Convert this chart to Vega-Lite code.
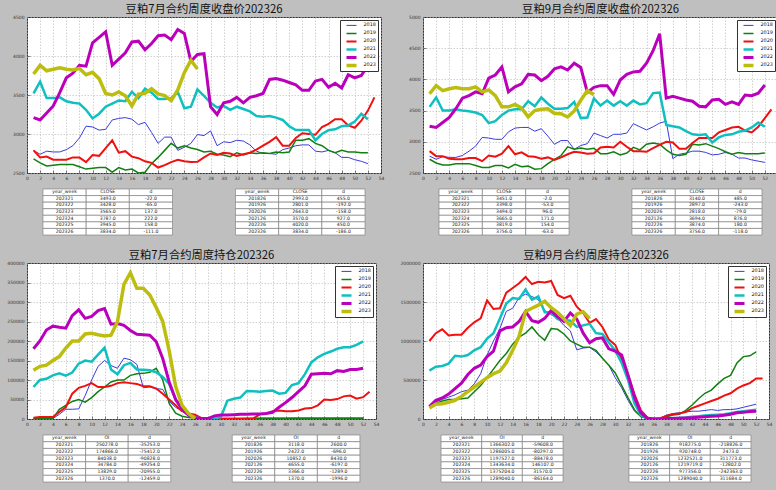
{
"$schema": "https://vega.github.io/schema/vega-lite/v6.json",
"autosize": {"type": "none"},
"padding": {"left": 21, "top": 17, "right": 755, "bottom": 473},
"background": "#bfbfbf",
"datasets": {
"tl": [
{"w":1,"2018":2790,"2019":2680,"2020":2790,"2021":3520,"2022":3210,"2023":3770},
{"w":2,"2018":2740,"2019":2630,"2020":2700,"2021":3670,"2022":3180,"2023":3880},
{"w":3,"2018":2780,"2019":2590,"2020":2710,"2021":3460,"2022":3270,"2023":3810},
{"w":4,"2018":2770,"2019":2600,"2020":2670,"2021":3460,"2022":3360,"2023":3830},
{"w":5,"2018":2770,"2019":2610,"2020":2670,"2021":3470,"2022":3530,"2023":3850},
{"w":6,"2018":2800,"2019":2610,"2020":2670,"2021":3420,"2022":3720,"2023":3830},
{"w":7,"2018":2850,"2019":2610,"2020":2700,"2021":3400,"2022":3780,"2023":3820},
{"w":8,"2018":2950,"2019":2580,"2020":2700,"2021":3390,"2022":3880,"2023":3840},
{"w":9,"2018":3100,"2019":2550,"2020":2640,"2021":3310,"2022":3870,"2023":3760},
{"w":10,"2018":3090,"2019":2560,"2020":2730,"2021":3200,"2022":4170,"2023":3790},
{"w":11,"2018":3050,"2019":2570,"2020":2720,"2021":3260,"2022":4240,"2023":3710},
{"w":12,"2018":3060,"2019":2570,"2020":2820,"2021":3350,"2022":4310,"2023":3520},
{"w":13,"2018":3180,"2019":2510,"2020":2920,"2021":3390,"2022":3880,"2023":3500},
{"w":14,"2018":3200,"2019":2570,"2020":2760,"2021":3430,"2022":3960,"2023":3540},
{"w":15,"2018":3210,"2019":2540,"2020":2780,"2021":3420,"2022":4040,"2023":3490},
{"w":16,"2018":3190,"2019":2550,"2020":2710,"2021":3540,"2022":4180,"2023":3360},
{"w":17,"2018":3120,"2019":2500,"2020":2690,"2021":3460,"2022":4190,"2023":3510},
{"w":18,"2018":3150,"2019":2510,"2020":2650,"2021":3580,"2022":4080,"2023":3520},
{"w":19,"2018":3020,"2019":2620,"2020":2630,"2021":3530,"2022":4160,"2023":3580},
{"w":20,"2018":2880,"2019":2700,"2020":2570,"2021":3450,"2022":4260,"2023":3515},
{"w":21,"2018":2960,"2019":2790,"2020":2600,"2021":3450,"2022":4270,"2023":3493},
{"w":22,"2018":2960,"2019":2880,"2020":2640,"2021":3460,"2022":4210,"2023":3428},
{"w":23,"2018":2790,"2019":2820,"2020":2670,"2021":3540,"2022":4340,"2023":3565},
{"w":24,"2018":2830,"2019":2850,"2020":2650,"2021":3330,"2022":4290,"2023":3787},
{"w":25,"2018":2880,"2019":2820,"2020":2640,"2021":3350,"2022":3930,"2023":3945},
{"w":26,"2018":2993,"2019":2801,"2020":2643,"2021":3570,"2022":4020,"2023":3834},
{"w":27,"2018":2980,"2019":2770,"2020":2700,"2021":3490,"2022":4030},
{"w":28,"2018":3040,"2019":2780,"2020":2750,"2021":3400,"2022":3350},
{"w":29,"2018":2850,"2019":2740,"2020":2730,"2021":3340,"2022":3250},
{"w":30,"2018":2900,"2019":2730,"2020":2760,"2021":3360,"2022":3400},
{"w":31,"2018":2890,"2019":2710,"2020":2750,"2021":3310,"2022":3420},
{"w":32,"2018":2920,"2019":2760,"2020":2720,"2021":3350,"2022":3470},
{"w":33,"2018":2910,"2019":2730,"2020":2740,"2021":3320,"2022":3400},
{"w":34,"2018":2860,"2019":2760,"2020":2760,"2021":3290,"2022":3470},
{"w":35,"2018":2780,"2019":2750,"2020":2800,"2021":3230,"2022":3490},
{"w":36,"2018":2750,"2019":2760,"2020":2850,"2021":3220,"2022":3520},
{"w":37,"2018":2750,"2019":2750,"2020":2900,"2021":3230,"2022":3700},
{"w":38,"2018":2740,"2019":2770,"2020":2960,"2021":3210,"2022":3710},
{"w":39,"2018":2800,"2019":2760,"2020":2850,"2021":3180,"2022":3690},
{"w":40,"2018":2820,"2019":2770,"2020":2850,"2021":3100,"2022":3660},
{"w":41,"2018":2850,"2019":2920,"2020":2950,"2021":3050,"2022":3630},
{"w":42,"2018":2860,"2019":2920,"2020":3010,"2021":3050,"2022":3560},
{"w":43,"2018":2860,"2019":2940,"2020":3000,"2021":3050,"2022":3560},
{"w":44,"2018":2780,"2019":2880,"2020":2990,"2021":2920,"2022":3680},
{"w":45,"2018":2770,"2019":2850,"2020":3090,"2021":3000,"2022":3700},
{"w":46,"2018":2790,"2019":2790,"2020":3130,"2021":3050,"2022":3600},
{"w":47,"2018":2760,"2019":2760,"2020":3190,"2021":3060,"2022":3650},
{"w":48,"2018":2700,"2019":2790,"2020":3190,"2021":3100,"2022":3590},
{"w":49,"2018":2700,"2019":2770,"2020":3110,"2021":3110,"2022":3760},
{"w":50,"2018":2670,"2019":2770,"2020":3080,"2021":3160,"2022":3720},
{"w":51,"2018":2650,"2019":2760,"2020":3170,"2021":3260,"2022":3750},
{"w":52,"2018":2620,"2019":2760,"2020":3300,"2021":3190,"2022":3880},
{"w":53,"2020":3470}
],
"tr": [
{"w":1,"2018":2770,"2019":2720,"2020":2850,"2021":3560,"2022":3250,"2023":3770},
{"w":2,"2018":2720,"2019":2660,"2020":2770,"2021":3710,"2022":3230,"2023":3900},
{"w":3,"2018":2760,"2019":2630,"2020":2770,"2021":3500,"2022":3310,"2023":3820},
{"w":4,"2018":2750,"2019":2630,"2020":2730,"2021":3500,"2022":3390,"2023":3850},
{"w":5,"2018":2750,"2019":2650,"2020":2720,"2021":3520,"2022":3530,"2023":3870},
{"w":6,"2018":2780,"2019":2650,"2020":2720,"2021":3500,"2022":3700,"2023":3850},
{"w":7,"2018":2850,"2019":2650,"2020":2740,"2021":3490,"2022":3740,"2023":3850},
{"w":8,"2018":2930,"2019":2620,"2020":2740,"2021":3470,"2022":3800,"2023":3880},
{"w":9,"2018":3070,"2019":2590,"2020":2690,"2021":3430,"2022":3770,"2023":3800},
{"w":10,"2018":3060,"2019":2590,"2020":2780,"2021":3300,"2022":4020,"2023":3830},
{"w":11,"2018":3040,"2019":2620,"2020":2760,"2021":3330,"2022":4070,"2023":3740},
{"w":12,"2018":3040,"2019":2620,"2020":2810,"2021":3430,"2022":4200,"2023":3560},
{"w":13,"2018":3160,"2019":2580,"2020":2930,"2021":3500,"2022":3800,"2023":3560},
{"w":14,"2018":3220,"2019":2640,"2020":2800,"2021":3520,"2022":3880,"2023":3600},
{"w":15,"2018":3230,"2019":2600,"2020":2830,"2021":3520,"2022":3930,"2023":3540},
{"w":16,"2018":3230,"2019":2610,"2020":2770,"2021":3650,"2022":4080,"2023":3400},
{"w":17,"2018":3170,"2019":2560,"2020":2760,"2021":3570,"2022":4070,"2023":3500},
{"w":18,"2018":3210,"2019":2570,"2020":2730,"2021":3710,"2022":3980,"2023":3520},
{"w":19,"2018":3090,"2019":2650,"2020":2750,"2021":3610,"2022":4050,"2023":3530},
{"w":20,"2018":2960,"2019":2720,"2020":2710,"2021":3530,"2022":4170,"2023":3453},
{"w":21,"2018":3020,"2019":2780,"2020":2750,"2021":3530,"2022":4200,"2023":3451},
{"w":22,"2018":3020,"2019":2920,"2020":2800,"2021":3540,"2022":4150,"2023":3398},
{"w":23,"2018":2880,"2019":2880,"2020":2840,"2021":3640,"2022":4260,"2023":3494},
{"w":24,"2018":2940,"2019":2900,"2020":2830,"2021":3380,"2022":4190,"2023":3665},
{"w":25,"2018":2970,"2019":2880,"2020":2810,"2021":3390,"2022":3790,"2023":3819},
{"w":26,"2018":3140,"2019":2897,"2020":2818,"2021":3694,"2022":3874,"2023":3756},
{"w":27,"2018":3100,"2019":2810,"2020":2910,"2021":3580,"2022":3900},
{"w":28,"2018":3060,"2019":2810,"2020":2920,"2021":3660,"2022":3900},
{"w":29,"2018":3120,"2019":2840,"2020":2910,"2021":3580,"2022":3760},
{"w":30,"2018":3120,"2019":2790,"2020":3000,"2021":3650,"2022":3990},
{"w":31,"2018":3140,"2019":2820,"2020":2920,"2021":3580,"2022":4080},
{"w":32,"2018":3290,"2019":2910,"2020":2850,"2021":3660,"2022":4120},
{"w":33,"2018":3240,"2019":2870,"2020":2850,"2021":3600,"2022":4130},
{"w":34,"2018":3190,"2019":2960,"2020":2840,"2021":3620,"2022":4260},
{"w":35,"2018":3240,"2019":2980,"2020":2900,"2021":3780,"2022":4460},
{"w":36,"2018":3300,"2019":2960,"2020":2950,"2021":3790,"2022":4730},
{"w":37,"2018":3330,"2019":2870,"2020":3000,"2021":3270,"2022":3700},
{"w":38,"2018":2730,"2019":2800,"2020":2990,"2021":3250,"2022":3730},
{"w":39,"2018":2800,"2019":2780,"2020":2890,"2021":3230,"2022":3700},
{"w":40,"2018":2820,"2019":2800,"2020":2890,"2021":3170,"2022":3670},
{"w":41,"2018":2850,"2019":2960,"2020":2980,"2021":3120,"2022":3650},
{"w":42,"2018":2850,"2019":2950,"2020":3060,"2021":3110,"2022":3570},
{"w":43,"2018":2830,"2019":2970,"2020":3060,"2021":3120,"2022":3560},
{"w":44,"2018":2790,"2019":2930,"2020":3060,"2021":2990,"2022":3670},
{"w":45,"2018":2800,"2019":2890,"2020":3150,"2021":3070,"2022":3680},
{"w":46,"2018":2830,"2019":2840,"2020":3190,"2021":3110,"2022":3600},
{"w":47,"2018":2800,"2019":2800,"2020":3230,"2021":3120,"2022":3640},
{"w":48,"2018":2740,"2019":2830,"2020":3240,"2021":3160,"2022":3600},
{"w":49,"2018":2740,"2019":2810,"2020":3180,"2021":3180,"2022":3750},
{"w":50,"2018":2710,"2019":2810,"2020":3150,"2021":3230,"2022":3740},
{"w":51,"2018":2690,"2019":2810,"2020":3240,"2021":3310,"2022":3780},
{"w":52,"2018":2670,"2019":2820,"2020":3380,"2021":3240,"2022":3910},
{"w":53,"2020":3520}
],
"bl": [
{"w":1,"2018":1000,"2019":1000,"2020":3000,"2021":82000,"2022":180000,"2023":125000},
{"w":2,"2018":1000,"2019":1000,"2020":5000,"2021":100000,"2022":200000,"2023":135000},
{"w":3,"2018":1000,"2019":1000,"2020":5000,"2021":103000,"2022":228000,"2023":138000},
{"w":4,"2018":1000,"2019":1000,"2020":5000,"2021":112000,"2022":238000,"2023":150000},
{"w":5,"2018":12000,"2019":25000,"2020":18000,"2021":117000,"2022":235000,"2023":160000},
{"w":6,"2018":25000,"2019":35000,"2020":30000,"2021":111000,"2022":233000,"2023":182000},
{"w":7,"2018":25000,"2019":45000,"2020":65000,"2021":119000,"2022":265000,"2023":200000},
{"w":8,"2018":26000,"2019":50000,"2020":80000,"2021":142000,"2022":280000,"2023":200000},
{"w":9,"2018":60000,"2019":43000,"2020":85000,"2021":150000,"2022":258000,"2023":218000},
{"w":10,"2018":100000,"2019":55000,"2020":92000,"2021":147000,"2022":263000,"2023":220000},
{"w":11,"2018":135000,"2019":70000,"2020":82000,"2021":165000,"2022":278000,"2023":216000},
{"w":12,"2018":150000,"2019":82000,"2020":82000,"2021":183000,"2022":283000,"2023":213000},
{"w":13,"2018":137000,"2019":95000,"2020":85000,"2021":127000,"2022":243000,"2023":215000},
{"w":14,"2018":130000,"2019":100000,"2020":92000,"2021":115000,"2022":245000,"2023":250000},
{"w":15,"2018":156000,"2019":100000,"2020":94000,"2021":138000,"2022":240000,"2023":345000},
{"w":16,"2018":152000,"2019":112000,"2020":92000,"2021":144000,"2022":227000,"2023":375000},
{"w":17,"2018":140000,"2019":116000,"2020":90000,"2021":127000,"2022":217000,"2023":335000},
{"w":18,"2018":80000,"2019":117000,"2020":84000,"2021":126000,"2022":216000,"2023":335000},
{"w":19,"2018":82000,"2019":120000,"2020":84000,"2021":125000,"2022":215000,"2023":318000},
{"w":20,"2018":78000,"2019":130000,"2020":78000,"2021":120000,"2022":198000,"2023":285531},
{"w":21,"2018":76000,"2019":100000,"2020":65000,"2021":108000,"2022":155000,"2023":250278},
{"w":22,"2018":45000,"2019":40000,"2020":50000,"2021":90000,"2022":95000,"2023":174866},
{"w":23,"2018":30000,"2019":15000,"2020":35000,"2021":50000,"2022":50000,"2023":84038},
{"w":24,"2018":20000,"2019":7000,"2020":20000,"2021":25000,"2022":25000,"2023":34784},
{"w":25,"2018":8000,"2019":4000,"2020":14000,"2021":10000,"2022":10000,"2023":13829},
{"w":26,"2018":3118,"2019":2422,"2020":10852,"2021":4655,"2022":3366,"2023":1370},
{"w":27,"2018":2000,"2019":500,"2020":2000,"2021":1000,"2022":1500},
{"w":28,"2018":2000,"2019":500,"2020":500,"2021":1000,"2022":1000},
{"w":29,"2018":2000,"2019":500,"2020":500,"2021":1000,"2022":8000},
{"w":30,"2018":2000,"2019":500,"2020":500,"2021":5000,"2022":10000},
{"w":31,"2018":2000,"2019":500,"2020":500,"2021":47000,"2022":10000},
{"w":32,"2018":2000,"2019":500,"2020":500,"2021":52000,"2022":11000},
{"w":33,"2018":2000,"2019":500,"2020":500,"2021":55000,"2022":12000},
{"w":34,"2018":2000,"2019":500,"2020":1000,"2021":72000,"2022":12000},
{"w":35,"2018":2000,"2019":500,"2020":1000,"2021":71000,"2022":13000},
{"w":36,"2018":3000,"2019":500,"2020":12000,"2021":70000,"2022":13000},
{"w":37,"2018":3000,"2019":500,"2020":14000,"2021":72000,"2022":14000},
{"w":38,"2018":3000,"2019":500,"2020":20000,"2021":73000,"2022":17000},
{"w":39,"2018":3000,"2019":500,"2020":22000,"2021":65000,"2022":30000},
{"w":40,"2018":3000,"2019":500,"2020":20000,"2021":67000,"2022":42000},
{"w":41,"2018":3000,"2019":1000,"2020":20000,"2021":87000,"2022":55000},
{"w":42,"2018":3000,"2019":1500,"2020":22000,"2021":92000,"2022":70000},
{"w":43,"2018":3000,"2019":1500,"2020":27000,"2021":115000,"2022":85000},
{"w":44,"2018":3000,"2019":1500,"2020":28000,"2021":145000,"2022":115000},
{"w":45,"2018":3000,"2019":1500,"2020":35000,"2021":158000,"2022":116000},
{"w":46,"2018":3000,"2019":1500,"2020":50000,"2021":167000,"2022":117000},
{"w":47,"2018":3000,"2019":1500,"2020":49000,"2021":173000,"2022":116000},
{"w":48,"2018":3000,"2019":1500,"2020":51000,"2021":180000,"2022":124000},
{"w":49,"2018":3000,"2019":1500,"2020":58000,"2021":184000,"2022":122000},
{"w":50,"2018":3000,"2019":1500,"2020":60000,"2021":184000,"2022":127000},
{"w":51,"2018":3000,"2019":1500,"2020":52000,"2021":190000,"2022":127000},
{"w":52,"2018":3000,"2019":1500,"2020":56000,"2021":199000,"2022":130000},
{"w":53,"2020":70000}
],
"br": [
{"w":1,"2018":170000,"2019":160000,"2020":1000000,"2021":620000,"2022":160000,"2023":140000},
{"w":2,"2018":220000,"2019":200000,"2020":1100000,"2021":670000,"2022":240000,"2023":190000},
{"w":3,"2018":250000,"2019":230000,"2020":1150000,"2021":680000,"2022":270000,"2023":195000},
{"w":4,"2018":280000,"2019":250000,"2020":1070000,"2021":710000,"2022":320000,"2023":215000},
{"w":5,"2018":310000,"2019":250000,"2020":1080000,"2021":810000,"2022":390000,"2023":240000},
{"w":6,"2018":350000,"2019":260000,"2020":1080000,"2021":800000,"2022":460000,"2023":290000},
{"w":7,"2018":370000,"2019":270000,"2020":1170000,"2021":820000,"2022":570000,"2023":350000},
{"w":8,"2018":450000,"2019":350000,"2020":1240000,"2021":880000,"2022":650000,"2023":410000},
{"w":9,"2018":580000,"2019":430000,"2020":1290000,"2021":920000,"2022":690000,"2023":470000},
{"w":10,"2018":820000,"2019":530000,"2020":1520000,"2021":1030000,"2022":800000,"2023":530000},
{"w":11,"2018":1000000,"2019":640000,"2020":1410000,"2021":1100000,"2022":870000,"2023":580000},
{"w":12,"2018":1160000,"2019":750000,"2020":1420000,"2021":1290000,"2022":1130000,"2023":615000},
{"w":13,"2018":1380000,"2019":840000,"2020":1620000,"2021":1480000,"2022":1170000,"2023":720000},
{"w":14,"2018":1420000,"2019":960000,"2020":1680000,"2021":1550000,"2022":1180000,"2023":880000},
{"w":15,"2018":1560000,"2019":1050000,"2020":1740000,"2021":1540000,"2022":1250000,"2023":1060000},
{"w":16,"2018":1600000,"2019":1100000,"2020":1820000,"2021":1660000,"2022":1380000,"2023":1380000},
{"w":17,"2018":1570000,"2019":1180000,"2020":1730000,"2021":1530000,"2022":1260000,"2023":1420000},
{"w":18,"2018":1530000,"2019":1080000,"2020":1760000,"2021":1570000,"2022":1240000,"2023":1460000},
{"w":19,"2018":1390000,"2019":1010000,"2020":1750000,"2021":1370000,"2022":1290000,"2023":1510000},
{"w":20,"2018":1340000,"2019":1160000,"2020":1770000,"2021":1370000,"2022":1390000,"2023":1425910},
{"w":21,"2018":1290000,"2019":1150000,"2020":1590000,"2021":1280000,"2022":1310000,"2023":1366302},
{"w":22,"2018":1200000,"2019":1090000,"2020":1550000,"2021":1270000,"2022":1250000,"2023":1286005},
{"w":23,"2018":1130000,"2019":1000000,"2020":1580000,"2021":1260000,"2022":1360000,"2023":1197527},
{"w":24,"2018":886000,"2019":960000,"2020":1440000,"2021":1180000,"2022":1280000,"2023":1343634},
{"w":25,"2018":910000,"2019":920000,"2020":1360000,"2021":1200000,"2022":1100000,"2023":1375204},
{"w":26,"2018":918275,"2019":920748,"2020":1232521,"2021":1219719,"2022":977356,"2023":1289040},
{"w":27,"2018":860000,"2019":880000,"2020":1280000,"2021":1100000,"2022":1030000},
{"w":28,"2018":780000,"2019":780000,"2020":1180000,"2021":1090000,"2022":1040000},
{"w":29,"2018":690000,"2019":690000,"2020":1020000,"2021":980000,"2022":900000},
{"w":30,"2018":530000,"2019":590000,"2020":950000,"2021":880000,"2022":870000},
{"w":31,"2018":400000,"2019":430000,"2020":760000,"2021":720000,"2022":820000},
{"w":32,"2018":240000,"2019":270000,"2020":570000,"2021":500000,"2022":560000},
{"w":33,"2018":100000,"2019":120000,"2020":320000,"2021":200000,"2022":280000},
{"w":34,"2018":30000,"2019":30000,"2020":110000,"2021":50000,"2022":80000},
{"w":35,"2018":5000,"2019":5000,"2020":20000,"2021":5000,"2022":10000},
{"w":36,"2018":2000,"2019":2000,"2020":5000,"2021":1000,"2022":1000},
{"w":37,"2018":10000,"2019":5000,"2020":10000,"2021":2000,"2022":2000},
{"w":38,"2018":50000,"2019":30000,"2020":40000,"2021":8000,"2022":5000},
{"w":39,"2018":70000,"2019":50000,"2020":60000,"2021":12000,"2022":8000},
{"w":40,"2018":80000,"2019":60000,"2020":70000,"2021":15000,"2022":10000},
{"w":41,"2018":90000,"2019":110000,"2020":90000,"2021":20000,"2022":13000},
{"w":42,"2018":100000,"2019":180000,"2020":140000,"2021":28000,"2022":17000},
{"w":43,"2018":100000,"2019":260000,"2020":170000,"2021":35000,"2022":22000},
{"w":44,"2018":110000,"2019":330000,"2020":200000,"2021":45000,"2022":28000},
{"w":45,"2018":120000,"2019":370000,"2020":230000,"2021":50000,"2022":35000},
{"w":46,"2018":110000,"2019":450000,"2020":260000,"2021":55000,"2022":40000},
{"w":47,"2018":120000,"2019":520000,"2020":300000,"2021":60000,"2022":48000},
{"w":48,"2018":120000,"2019":560000,"2020":330000,"2021":75000,"2022":60000},
{"w":49,"2018":130000,"2019":720000,"2020":390000,"2021":90000,"2022":80000},
{"w":50,"2018":150000,"2019":800000,"2020":430000,"2021":100000,"2022":85000},
{"w":51,"2018":170000,"2019":810000,"2020":460000,"2021":110000,"2022":95000},
{"w":52,"2018":190000,"2019":860000,"2020":520000,"2021":120000,"2022":100000},
{"w":53,"2020":520000}
],
"tables": [
{"p":"tl","t":"L","r":0,"a":"year_week","b":"CLOSE","c":"d"},
{"p":"tl","t":"L","r":1,"a":"202321","b":"3493.0","c":"-22.0"},
{"p":"tl","t":"L","r":2,"a":"202322","b":"3428.0","c":"-65.0"},
{"p":"tl","t":"L","r":3,"a":"202323","b":"3565.0","c":"137.0"},
{"p":"tl","t":"L","r":4,"a":"202324","b":"3787.0","c":"222.0"},
{"p":"tl","t":"L","r":5,"a":"202325","b":"3945.0","c":"158.0"},
{"p":"tl","t":"L","r":6,"a":"202326","b":"3834.0","c":"-111.0"},
{"p":"tl","t":"R","r":0,"a":"year_week","b":"CLOSE","c":"d"},
{"p":"tl","t":"R","r":1,"a":"201826","b":"2993.0","c":"455.0"},
{"p":"tl","t":"R","r":2,"a":"201926","b":"2801.0","c":"-192.0"},
{"p":"tl","t":"R","r":3,"a":"202026","b":"2643.0","c":"-158.0"},
{"p":"tl","t":"R","r":4,"a":"202126","b":"3570.0","c":"927.0"},
{"p":"tl","t":"R","r":5,"a":"202226","b":"4020.0","c":"450.0"},
{"p":"tl","t":"R","r":6,"a":"202326","b":"3834.0","c":"-186.0"},
{"p":"tr","t":"L","r":0,"a":"year_week","b":"CLOSE","c":"d"},
{"p":"tr","t":"L","r":1,"a":"202321","b":"3451.0","c":"-2.0"},
{"p":"tr","t":"L","r":2,"a":"202322","b":"3398.0","c":"-53.0"},
{"p":"tr","t":"L","r":3,"a":"202323","b":"3494.0","c":"96.0"},
{"p":"tr","t":"L","r":4,"a":"202324","b":"3665.0","c":"171.0"},
{"p":"tr","t":"L","r":5,"a":"202325","b":"3819.0","c":"154.0"},
{"p":"tr","t":"L","r":6,"a":"202326","b":"3756.0","c":"-63.0"},
{"p":"tr","t":"R","r":0,"a":"year_week","b":"CLOSE","c":"d"},
{"p":"tr","t":"R","r":1,"a":"201826","b":"3140.0","c":"485.0"},
{"p":"tr","t":"R","r":2,"a":"201926","b":"2897.0","c":"-243.0"},
{"p":"tr","t":"R","r":3,"a":"202026","b":"2818.0","c":"-79.0"},
{"p":"tr","t":"R","r":4,"a":"202126","b":"3694.0","c":"876.0"},
{"p":"tr","t":"R","r":5,"a":"202226","b":"3874.0","c":"180.0"},
{"p":"tr","t":"R","r":6,"a":"202326","b":"3756.0","c":"-118.0"},
{"p":"bl","t":"L","r":0,"a":"year_week","b":"OI","c":"d"},
{"p":"bl","t":"L","r":1,"a":"202321","b":"250278.0","c":"-35253.0"},
{"p":"bl","t":"L","r":2,"a":"202322","b":"174866.0","c":"-75412.0"},
{"p":"bl","t":"L","r":3,"a":"202323","b":"84038.0","c":"-90828.0"},
{"p":"bl","t":"L","r":4,"a":"202324","b":"34784.0","c":"-49254.0"},
{"p":"bl","t":"L","r":5,"a":"202325","b":"13829.0","c":"-20955.0"},
{"p":"bl","t":"L","r":6,"a":"202326","b":"1370.0","c":"-12459.0"},
{"p":"bl","t":"R","r":0,"a":"year_week","b":"OI","c":"d"},
{"p":"bl","t":"R","r":1,"a":"201826","b":"3118.0","c":"2600.0"},
{"p":"bl","t":"R","r":2,"a":"201926","b":"2422.0","c":"-696.0"},
{"p":"bl","t":"R","r":3,"a":"202026","b":"10852.0","c":"8430.0"},
{"p":"bl","t":"R","r":4,"a":"202126","b":"4655.0","c":"-6197.0"},
{"p":"bl","t":"R","r":5,"a":"202226","b":"3366.0","c":"-1289.0"},
{"p":"bl","t":"R","r":6,"a":"202326","b":"1370.0","c":"-1996.0"},
{"p":"br","t":"L","r":0,"a":"year_week","b":"OI","c":"d"},
{"p":"br","t":"L","r":1,"a":"202321","b":"1366302.0","c":"-59608.0"},
{"p":"br","t":"L","r":2,"a":"202322","b":"1286005.0","c":"-80297.0"},
{"p":"br","t":"L","r":3,"a":"202323","b":"1197527.0","c":"-88478.0"},
{"p":"br","t":"L","r":4,"a":"202324","b":"1343634.0","c":"146107.0"},
{"p":"br","t":"L","r":5,"a":"202325","b":"1375204.0","c":"31570.0"},
{"p":"br","t":"L","r":6,"a":"202326","b":"1289040.0","c":"-86164.0"},
{"p":"br","t":"R","r":0,"a":"year_week","b":"OI","c":"d"},
{"p":"br","t":"R","r":1,"a":"201826","b":"918275.0","c":"-218826.0"},
{"p":"br","t":"R","r":2,"a":"201926","b":"920748.0","c":"2473.0"},
{"p":"br","t":"R","r":3,"a":"202026","b":"1232521.0","c":"311773.0"},
{"p":"br","t":"R","r":4,"a":"202126","b":"1219719.0","c":"-12802.0"},
{"p":"br","t":"R","r":5,"a":"202226","b":"977356.0","c":"-242363.0"},
{"p":"br","t":"R","r":6,"a":"202326","b":"1289040.0","c":"311684.0"}
]
},
"concat": [
{"width": 1, "height": 1, "data": {"values": []}, "mark": "text", "view": {"stroke": "transparent", "fill": "transparent"}},
{
"width": 354, "height": 156,
"title": {"text": "豆粕7月合约周度收盘价202326"},
"data": {"name": "tl"},
"transform": [{"fold": ["2018","2019","2020","2021","2022","2023"], "as": ["year","v"]}, {"filter": "isValid(datum.v)"}],
"mark": {"type": "line", "clip": true},
"encoding": {
"x": {"field": "w", "type": "quantitative", "scale": {"domain": [0,54], "nice": false, "zero": false}, "axis": {"values": [0,2,4,6,8,10,12,14,16,18,20,22,24,26,28,30,32,34,36,38,40,42,44,46,48,50,52,54], "format": "d"}},
"y": {"field": "v", "type": "quantitative", "scale": {"domain": [2500,4500], "nice": false, "zero": false}, "axis": {"values": [2500,3000,3500,4000,4500], "format": "d"}},
"color": {"field": "year", "type": "ordinal", "scale": {"domain": ["2018","2019","2020","2021","2022","2023"], "range": ["#3b3bdc","#118011","#f01010","#10bfbf","#bb00bb","#bdbd10"]}, "legend": {"title": null}},
"strokeWidth": {"field": "year", "type": "ordinal", "scale": {"type": "point", "domain": ["2018","2019","2020","2021","2022","2023"], "range": [1,3.5], "padding": 0}, "legend": {"title": null}}
}
},
{"width": 33, "height": 1, "data": {"values": []}, "mark": "text", "view": {"stroke": "transparent", "fill": "transparent"}},
{
"width": 355, "height": 156,
"title": {"text": "豆粕9月合约周度收盘价202326"},
"data": {"name": "tr"},
"transform": [{"fold": ["2018","2019","2020","2021","2022","2023"], "as": ["year","v"]}, {"filter": "isValid(datum.v)"}],
"mark": {"type": "line", "clip": true},
"encoding": {
"x": {"field": "w", "type": "quantitative", "scale": {"domain": [0,54], "nice": false, "zero": false}, "axis": {"values": [0,2,4,6,8,10,12,14,16,18,20,22,24,26,28,30,32,34,36,38,40,42,44,46,48,50,52,54], "format": "d"}},
"y": {"field": "v", "type": "quantitative", "scale": {"domain": [2500,5000], "nice": false, "zero": false}, "axis": {"values": [2500,3000,3500,4000,4500,5000], "format": "d"}},
"color": {"field": "year", "type": "ordinal", "scale": {"domain": ["2018","2019","2020","2021","2022","2023"], "range": ["#3b3bdc","#118011","#f01010","#10bfbf","#bb00bb","#bdbd10"]}, "legend": {"title": null}},
"strokeWidth": {"field": "year", "type": "ordinal", "scale": {"type": "point", "domain": ["2018","2019","2020","2021","2022","2023"], "range": [1,3.5], "padding": 0}, "legend": {"title": null}}
}
},
{"width": 1, "height": 1, "data": {"values": []}, "mark": "text", "view": {"stroke": "transparent", "fill": "transparent"}},
{
"width": 354, "height": 58,
"view": {"stroke": "transparent", "fill": "transparent"},
"data": {"name": "tables"},
"transform": [{"filter": "datum.p == 'tl'"}, {"fold": ["a","b","c"], "as": ["col","txt"]}],
"encoding": {
"x": {"field": "t", "type": "nominal", "axis": null, "scale": {"paddingInner": 0.327, "paddingOuter": 0.083}},
"xOffset": {"field": "col", "type": "nominal", "scale": {"paddingInner": 0, "paddingOuter": 0}},
"y": {"field": "r", "type": "ordinal", "axis": null, "scale": {"paddingInner": 0, "paddingOuter": 0.913, "align": 0}}
},
"layer": [
{"mark": {"type": "rect", "fill": "white", "stroke": "#777", "strokeWidth": 0.6}},
{"mark": {"type": "text", "fontSize": 4.6, "font": "DejaVu Sans", "color": "#222"}, "encoding": {"text": {"field": "txt"}}}
]
},
{"width": 33, "height": 1, "data": {"values": []}, "mark": "text", "view": {"stroke": "transparent", "fill": "transparent"}},
{
"width": 355, "height": 58,
"view": {"stroke": "transparent", "fill": "transparent"},
"data": {"name": "tables"},
"transform": [{"filter": "datum.p == 'tr'"}, {"fold": ["a","b","c"], "as": ["col","txt"]}],
"encoding": {
"x": {"field": "t", "type": "nominal", "axis": null, "scale": {"paddingInner": 0.326, "paddingOuter": 0.083}},
"xOffset": {"field": "col", "type": "nominal", "scale": {"paddingInner": 0, "paddingOuter": 0}},
"y": {"field": "r", "type": "ordinal", "axis": null, "scale": {"paddingInner": 0, "paddingOuter": 0.913, "align": 0}}
},
"layer": [
{"mark": {"type": "rect", "fill": "white", "stroke": "#777", "strokeWidth": 0.6}},
{"mark": {"type": "text", "fontSize": 4.6, "font": "DejaVu Sans", "color": "#222"}, "encoding": {"text": {"field": "txt"}}}
]
},
{"width": 6, "height": 1, "data": {"values": []}, "mark": "text", "view": {"stroke": "transparent", "fill": "transparent"}},
{
"width": 349, "height": 156,
"title": {"text": "豆粕7月合约周度持仓202326"},
"data": {"name": "bl"},
"transform": [{"fold": ["2018","2019","2020","2021","2022","2023"], "as": ["year","v"]}, {"filter": "isValid(datum.v)"}],
"mark": {"type": "line", "clip": true},
"encoding": {
"x": {"field": "w", "type": "quantitative", "scale": {"domain": [0,54], "nice": false, "zero": false}, "axis": {"values": [0,2,4,6,8,10,12,14,16,18,20,22,24,26,28,30,32,34,36,38,40,42,44,46,48,50,52,54], "format": "d"}},
"y": {"field": "v", "type": "quantitative", "scale": {"domain": [0,400000], "nice": false}, "axis": {"values": [0,50000,100000,150000,200000,250000,300000,350000,400000], "format": "d"}},
"color": {"field": "year", "type": "ordinal", "scale": {"domain": ["2018","2019","2020","2021","2022","2023"], "range": ["#3b3bdc","#118011","#f01010","#10bfbf","#bb00bb","#bdbd10"]}, "legend": {"title": null}},
"strokeWidth": {"field": "year", "type": "ordinal", "scale": {"type": "point", "domain": ["2018","2019","2020","2021","2022","2023"], "range": [1,3.5], "padding": 0}, "legend": {"title": null}}
}
},
{"width": 42, "height": 1, "data": {"values": []}, "mark": "text", "view": {"stroke": "transparent", "fill": "transparent"}},
{
"width": 346, "height": 156,
"title": {"text": "豆粕9月合约周度持仓202326"},
"data": {"name": "br"},
"transform": [{"fold": ["2018","2019","2020","2021","2022","2023"], "as": ["year","v"]}, {"filter": "isValid(datum.v)"}],
"mark": {"type": "line", "clip": true},
"encoding": {
"x": {"field": "w", "type": "quantitative", "scale": {"domain": [0,54], "nice": false, "zero": false}, "axis": {"values": [0,2,4,6,8,10,12,14,16,18,20,22,24,26,28,30,32,34,36,38,40,42,44,46,48,50,52,54], "format": "d"}},
"y": {"field": "v", "type": "quantitative", "scale": {"domain": [0,2000000], "nice": false}, "axis": {"values": [0,500000,1000000,1500000,2000000], "format": "d"}},
"color": {"field": "year", "type": "ordinal", "scale": {"domain": ["2018","2019","2020","2021","2022","2023"], "range": ["#3b3bdc","#118011","#f01010","#10bfbf","#bb00bb","#bdbd10"]}, "legend": {"title": null}},
"strokeWidth": {"field": "year", "type": "ordinal", "scale": {"type": "point", "domain": ["2018","2019","2020","2021","2022","2023"], "range": [1,3.5], "padding": 0}, "legend": {"title": null}}
}
},
{"width": 6, "height": 1, "data": {"values": []}, "mark": "text", "view": {"stroke": "transparent", "fill": "transparent"}},
{
"width": 349, "height": 47,
"view": {"stroke": "transparent", "fill": "transparent"},
"data": {"name": "tables"},
"transform": [{"filter": "datum.p == 'bl'"}, {"fold": ["a","b","c"], "as": ["col","txt"]}],
"encoding": {
"x": {"field": "t", "type": "nominal", "axis": null, "scale": {"paddingInner": 0.325, "paddingOuter": 0.085}},
"xOffset": {"field": "col", "type": "nominal", "scale": {"paddingInner": 0, "paddingOuter": 0}},
"y": {"field": "r", "type": "ordinal", "axis": null, "scale": {"paddingInner": 0, "paddingOuter": 0}}
},
"layer": [
{"mark": {"type": "rect", "fill": "white", "stroke": "#777", "strokeWidth": 0.6}},
{"mark": {"type": "text", "fontSize": 4.6, "font": "DejaVu Sans", "color": "#222"}, "encoding": {"text": {"field": "txt"}}}
]
},
{"width": 42, "height": 1, "data": {"values": []}, "mark": "text", "view": {"stroke": "transparent", "fill": "transparent"}},
{
"width": 346, "height": 47,
"view": {"stroke": "transparent", "fill": "transparent"},
"data": {"name": "tables"},
"transform": [{"filter": "datum.p == 'br'"}, {"fold": ["a","b","c"], "as": ["col","txt"]}],
"encoding": {
"x": {"field": "t", "type": "nominal", "axis": null, "scale": {"paddingInner": 0.351, "paddingOuter": 0.096}},
"xOffset": {"field": "col", "type": "nominal", "scale": {"paddingInner": 0, "paddingOuter": 0}},
"y": {"field": "r", "type": "ordinal", "axis": null, "scale": {"paddingInner": 0, "paddingOuter": 0}}
},
"layer": [
{"mark": {"type": "rect", "fill": "white", "stroke": "#777", "strokeWidth": 0.6}},
{"mark": {"type": "text", "fontSize": 4.6, "font": "DejaVu Sans", "color": "#222"}, "encoding": {"text": {"field": "txt"}}}
]
}
],
"columns": 4,
"align": "none",
"bounds": "flush",
"spacing": {"row": 16, "column": 0},
"resolve": {"scale": {"color": "independent", "strokeWidth": "independent", "xOffset": "independent"}, "legend": {"color": "independent", "strokeWidth": "independent"}},
"config": {
"view": {"fill": "white", "stroke": "#333", "strokeWidth": 1},
"title": {"fontSize": 11.3, "font": "Noto Sans CJK SC", "fontWeight": "normal", "color": "#111", "offset": -1, "frame": "group", "anchor": "middle"},
"axis": {"title": null, "labelFontSize": 4.5, "labelFont": "DejaVu Sans", "labelColor": "#333", "grid": true, "gridColor": "#b4b4b4", "gridDash": [1.5,1.5], "gridWidth": 0.6, "domain": false, "tickSize": -3, "tickColor": "#333", "tickWidth": 0.6, "labelFlush": false, "labelOverlap": false},
"axisX": {"labelPadding": 5},
"axisY": {"labelPadding": 6},
"legend": {"orient": "top-right", "offset": 3, "padding": 1.5, "strokeColor": "#333", "fillColor": "white", "labelFontSize": 4.9, "labelFont": "DejaVu Sans", "labelColor": "#111", "symbolType": "stroke", "symbolSize": 100, "rowPadding": 0, "clipHeight": 7.8, "labelOffset": 5, "symbolOffset": 3, "cornerRadius": 0}
}
}
